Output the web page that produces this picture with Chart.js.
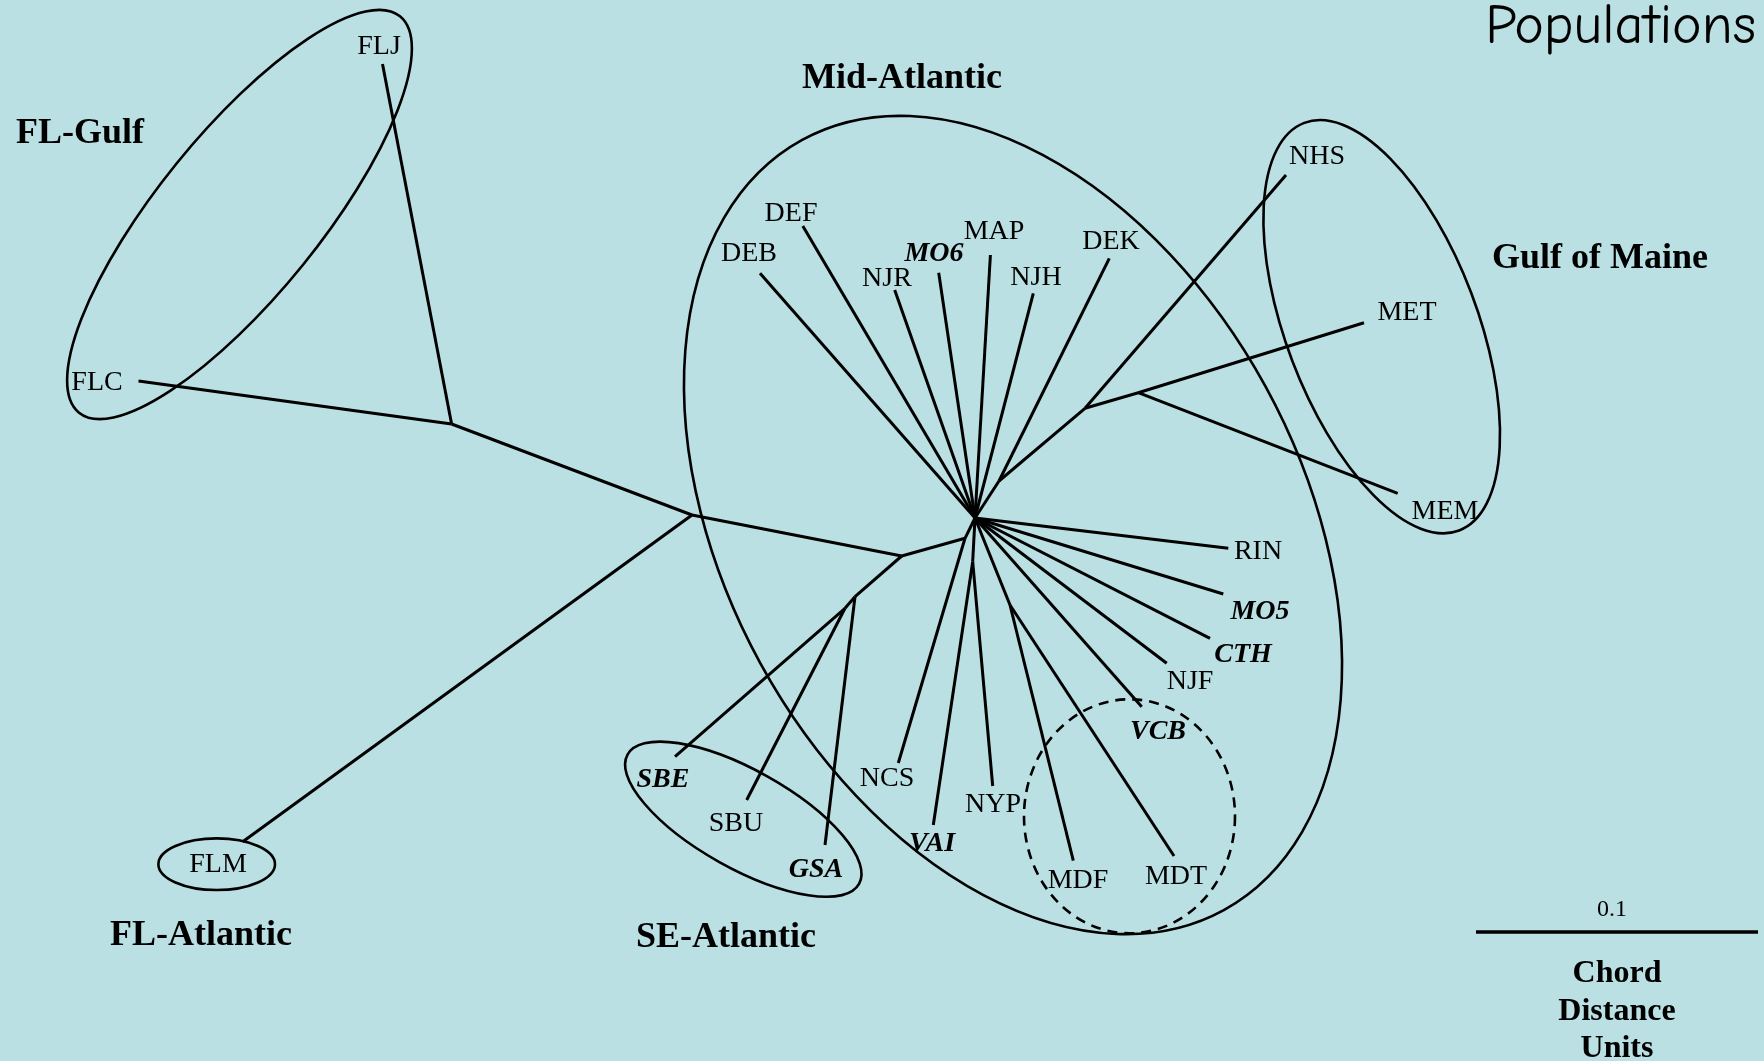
<!DOCTYPE html>
<html>
<head>
<meta charset="utf-8">
<title>Populations</title>
<script src="https://cdn.jsdelivr.net/npm/chart.js@4/dist/chart.umd.min.js"></script>
<style>
  html, body { margin: 0; padding: 0; background: #bae0e3; }
  #wrap { width: 1764px; height: 1061px; }
</style>
</head>
<body>
<div id="wrap"><canvas id="chart" width="1764" height="1061"></canvas></div>
<script>
// Unrooted tree of populations (chord distance), positions.
// x to the right, y downwards, in picture units.

const nodeNames = ['FLJ', 'FLC', 'FLM', 'A', 'B', 'C', 'E', 'H', 'K', 'L', 'F', 'G', 'I', 'J', 'J2',
  'DEB', 'DEF', 'NJR', 'MO6', 'MAP', 'NJH', 'DEK', 'NHS', 'MET', 'MEM', 'RIN', 'MO5', 'CTH',
  'NJF', 'VCB', 'MDT', 'MDF', 'NYP', 'VAI', 'NCS', 'GSA', 'SBU', 'SBE'];
const nodeX = [382.5, 138.5, 242.7, 451.6, 692, 901.7, 965, 975, 972.7, 1010, 999, 1085, 1138.3, 855, 845,
  760, 802.8, 894.7, 938.7, 990.4, 1033.3, 1109.3, 1286, 1364, 1397.7, 1228.3, 1223.3, 1210,
  1166.7, 1141.7, 1174, 1073.3, 992.7, 933.3, 898.3, 825, 746.7, 675];
const nodeY = [64, 381, 841.7, 424, 515, 556, 538.3, 518, 561.7, 605, 481, 408.3, 392.7, 596.7, 608.3,
  273.3, 226, 290, 272.7, 255, 293.3, 258.3, 175, 322.7, 493.3, 548.3, 594, 638.3,
  663.3, 706.7, 856, 860.7, 786, 825, 763, 845, 800, 756.7];

const edges = [
  ['FLJ', 'A'], ['FLC', 'A'], ['A', 'B'], ['B', 'FLM'], ['B', 'C'],
  ['C', 'E'], ['E', 'H'], ['E', 'NCS'], ['C', 'J'], ['J', 'GSA'], ['J', 'J2'], ['J2', 'SBE'], ['J2', 'SBU'],
  ['H', 'DEB'], ['H', 'DEF'], ['H', 'NJR'], ['H', 'MO6'], ['H', 'MAP'], ['H', 'NJH'],
  ['H', 'F'], ['F', 'DEK'], ['F', 'G'], ['G', 'NHS'], ['G', 'I'], ['I', 'MET'], ['I', 'MEM'],
  ['H', 'RIN'], ['H', 'MO5'], ['H', 'CTH'], ['H', 'NJF'], ['H', 'VCB'],
  ['H', 'L'], ['L', 'MDF'], ['L', 'MDT'], ['H', 'K'], ['K', 'NYP'], ['K', 'VAI']
];

// population labels
const popNames = ['FLJ', 'FLC', 'FLM', 'DEF', 'DEB', 'MO6', 'MAP', 'NJR', 'NJH', 'DEK', 'NHS', 'MET', 'MEM',
  'RIN', 'MO5', 'CTH', 'NJF', 'VCB', 'NCS', 'NYP', 'VAI', 'MDF', 'MDT', 'SBE', 'SBU', 'GSA'];
const popX = [379, 97, 218, 791, 749, 934, 994, 887, 1036, 1111, 1317, 1407, 1445,
  1258, 1260, 1243, 1190, 1158, 887, 993, 932, 1078, 1176, 663, 736, 816];
const popY = [45, 381, 863, 211.5, 252, 251.5, 230, 277, 276, 239.5, 155, 311, 510,
  550, 610, 653, 680, 730, 777, 803, 842, 879, 875, 778, 822, 868];
const markedPops = ['MO6', 'MO5', 'CTH', 'VCB', 'VAI', 'SBE', 'GSA'];

// regional groups
const groupNames = ['Mid-Atlantic', 'FL-Gulf', 'Gulf of Maine', 'FL-Atlantic', 'SE-Atlantic'];
const groupX = [902, 80, 1600, 201, 726];
const groupY = [76.5, 132, 257, 934, 936];

// group outlines: centre, half axes, tilt in degrees
const ringCx = [239.5, 1013, 1381.7, 743.3, 216.7, 1129.5];
const ringCy = [214.5, 525, 326.7, 819.2, 864.2, 816.3];
const ringA = [255, 439, 218, 132.6, 58.3, 105.5];
const ringB = [81, 288, 95.7, 49.1, 25.8, 117];
const ringTilt = [-51, 61.3, 69.2, 29.2, 0, 0];
const ringDashed = [false, false, false, false, false, true];

// scale bar: 0.1 chord distance units
const scaleBarX = [1476, 1758];
const scaleBarY = [932, 932];
const scaleLabel = '0.1';
const unitLines = ['Chord', 'Distance', 'Units'];

const BG = '#bae0e3';
const SERIF = '"Liberation Serif", "Times New Roman", serif';
const TEXT_SHIFT = 2; // canvas "middle" sits a bit above the cap centre of Times

function pt(name) {
  const i = nodeNames.indexOf(name);
  return { x: nodeX[i], y: nodeY[i] };
}

const datasets = edges.map(([a, b]) => ({
  data: [pt(a), pt(b)],
  showLine: true,
  borderColor: '#000',
  borderWidth: 3,
  pointRadius: 0,
  fill: false
}));
datasets.push({
  data: [{ x: scaleBarX[0], y: scaleBarY[0] }, { x: scaleBarX[1], y: scaleBarY[1] }],
  showLine: true,
  borderColor: '#000',
  borderWidth: 3.5,
  pointRadius: 0,
  fill: false
});

const background = {
  id: 'background',
  beforeDraw(chart) {
    const ctx = chart.ctx;
    ctx.save();
    ctx.fillStyle = BG;
    ctx.fillRect(0, 0, chart.width, chart.height);
    ctx.restore();
  }
};

const rings = {
  id: 'rings',
  afterDatasetsDraw(chart) {
    const { ctx, scales: { x, y } } = chart;
    const ux = Math.abs(x.getPixelForValue(1) - x.getPixelForValue(0));
    const uy = Math.abs(y.getPixelForValue(1) - y.getPixelForValue(0));
    ctx.save();
    ctx.strokeStyle = '#000';
    ctx.lineWidth = 2.6;
    ringCx.forEach((cx, i) => {
      ctx.beginPath();
      ctx.setLineDash(ringDashed[i] ? [10, 7] : []);
      ctx.ellipse(x.getPixelForValue(cx), y.getPixelForValue(ringCy[i]),
        ringA[i] * ux, ringB[i] * uy, ringTilt[i] * Math.PI / 180, 0, Math.PI * 2);
      ctx.stroke();
    });
    ctx.restore();
  }
};

const texts = {
  id: 'texts',
  afterDatasetsDraw(chart) {
    const { ctx, scales: { x, y } } = chart;
    ctx.save();
    ctx.fillStyle = '#000';
    ctx.textAlign = 'center';
    ctx.textBaseline = 'middle';

    popNames.forEach((n, i) => {
      ctx.font = markedPops.includes(n) ? `italic bold 28px ${SERIF}` : `28px ${SERIF}`;
      ctx.fillText(n, x.getPixelForValue(popX[i]), y.getPixelForValue(popY[i]) + TEXT_SHIFT);
    });

    ctx.font = `bold 36px ${SERIF}`;
    groupNames.forEach((n, i) => {
      ctx.fillText(n, x.getPixelForValue(groupX[i]), y.getPixelForValue(groupY[i]) + TEXT_SHIFT);
    });

    ctx.font = `24px ${SERIF}`;
    ctx.fillText(scaleLabel, x.getPixelForValue(1612), y.getPixelForValue(908) + TEXT_SHIFT);
    ctx.font = `bold 32px ${SERIF}`;
    unitLines.forEach((t, i) => {
      ctx.fillText(t, x.getPixelForValue(1617), y.getPixelForValue(972 + i * 37.5) + TEXT_SHIFT);
    });

    ctx.textAlign = 'right';
    ctx.textBaseline = 'alphabetic';
    ctx.font = '56px "Comic Sans MS", "Comic Neue", Lato, sans-serif';
    ctx.fillText('Populations', x.getPixelForValue(1756), y.getPixelForValue(43));
    ctx.restore();
  }
};

new Chart(document.getElementById('chart'), {
  type: 'scatter',
  data: { datasets },
  options: {
    responsive: false,
    devicePixelRatio: 1,
    animation: false,
    layout: { padding: 0 },
    scales: {
      x: { type: 'linear', min: 0, max: 1764, display: false },
      y: { type: 'linear', min: 0, max: 1061, reverse: true, display: false }
    },
    plugins: {
      legend: { display: false },
      tooltip: { enabled: false }
    },
    elements: { line: { tension: 0, borderCapStyle: 'butt' } }
  },
  plugins: [background, rings, texts]
});
</script>
</body>
</html>
